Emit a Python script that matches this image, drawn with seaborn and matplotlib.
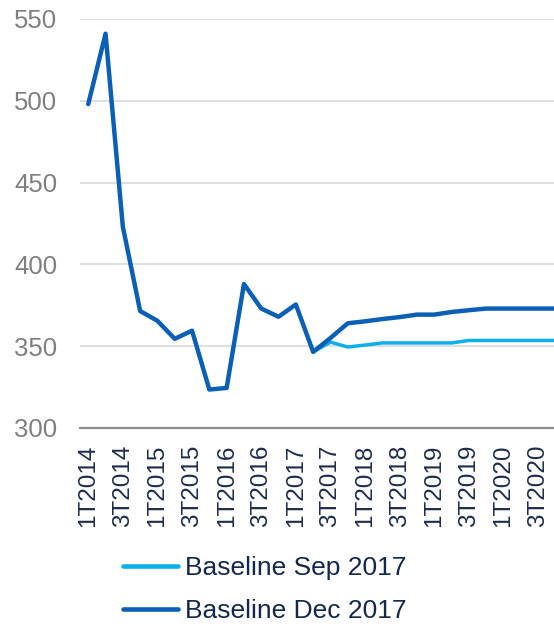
import numpy as np
import pandas as pd
import matplotlib
matplotlib.use("Agg")
import matplotlib.pyplot as plt
import seaborn as sns

# %%
# Data
quarters = ["1T2014", "2T2014", "3T2014", "4T2014",
            "1T2015", "2T2015", "3T2015", "4T2015",
            "1T2016", "2T2016", "3T2016", "4T2016",
            "1T2017", "2T2017", "3T2017", "4T2017",
            "1T2018", "2T2018", "3T2018", "4T2018",
            "1T2019", "2T2019", "3T2019", "4T2019",
            "1T2020", "2T2020", "3T2020", "4T2020"]

baseline_sep = [np.nan, np.nan, np.nan, np.nan, np.nan, np.nan, np.nan,
                np.nan, np.nan, np.nan, np.nan, np.nan, np.nan,
                346.5, 352.5, 349.5, 350.7, 352, 352, 352, 352, 352,
                353.5, 353.5, 353.5, 353.5, 353.5, 353.5]

baseline_dec = [498, 541, 423, 371.5, 365.5, 354.5, 359.5, 323.5,
                324.5, 388, 373, 368, 375.5, 346.5, 355, 364,
                365.2, 366.6, 367.8, 369.3, 369.3, 370.9, 372, 373,
                373, 373, 373, 373]

series_names = ["Baseline Sep 2017", "Baseline Dec 2017"]
series_colors = ["#0db0ea", "#0b5fb5"]
y_ticks = [300, 350, 400, 450, 500, 550]

# %%
pos = np.arange(len(quarters))
df = pd.concat([
    pd.DataFrame({"pos": pos, "value": baseline_sep, "series": series_names[0]}),
    pd.DataFrame({"pos": pos, "value": baseline_dec, "series": series_names[1]}),
]).dropna()

sns.set_style("white")
plt.rcParams["font.family"] = ["Liberation Sans", "DejaVu Sans"]

fig = plt.figure(figsize=(5.54, 6.26), dpi=100)
W, H = 554, 626
left_px, right_px, top_px, bot_px = 79.6, 564.0, 19.0, 428.0
ax = fig.add_axes([left_px / W, 1 - bot_px / H,
                   (right_px - left_px) / W, (bot_px - top_px) / H])

sns.lineplot(data=df, x="pos", y="value", hue="series",
             hue_order=series_names, palette=series_colors,
             linewidth=3.0, ax=ax, legend=False)
ax.lines[1].set_linewidth(3.2)
ax.lines[0].set_linewidth(2.5)

ax.set_xlim(-0.5, len(quarters) - 0.5)
ax.set_ylim(300, 550)
ax.set_xlabel("")
ax.set_ylabel("")

# y axis
ax.set_yticks(y_ticks)
ax.tick_params(axis="y", length=0, pad=16, labelsize=18.5, labelcolor="#7f7f7f")
ax.grid(axis="y", color="#d9d9d9", linewidth=1.2)
ax.set_axisbelow(True)

# x axis: boundary ticks (major) + category ticks (minor, labelled every 2nd)
ax.set_xticks(np.arange(len(quarters) + 1) - 0.5)
ax.set_xticklabels([])
lab = [q if i % 2 == 0 else "" for i, q in enumerate(quarters)]
ax.set_xticks(pos, lab, minor=True)
ax.tick_params(axis="x", which="major", direction="in", length=5, width=1.2,
               color="#8c8c8c")
ax.tick_params(axis="x", which="minor", direction="in", length=3, width=1.2,
               color="#8c8c8c", labelrotation=90, labelsize=17.5,
               labelcolor="#1f2d4d", pad=12)

for s in ["top", "right", "left"]:
    ax.spines[s].set_visible(False)
ax.spines["bottom"].set_color("#8c8c8c")
ax.spines["bottom"].set_linewidth(1.6)

# legend
handles = [plt.Line2D([], [], color=c, linewidth=3.3) for c in series_colors]
ax.legend(handles, series_names, loc="upper left",
          bbox_to_anchor=(123 / W, 1 - 556 / H), bbox_transform=fig.transFigure,
          frameon=False, fontsize=19, labelcolor="#14284b",
          handlelength=2.1, handletextpad=0.25, labelspacing=0.72,
          borderpad=0, borderaxespad=0)

fig.savefig("out.png", dpi=100)
